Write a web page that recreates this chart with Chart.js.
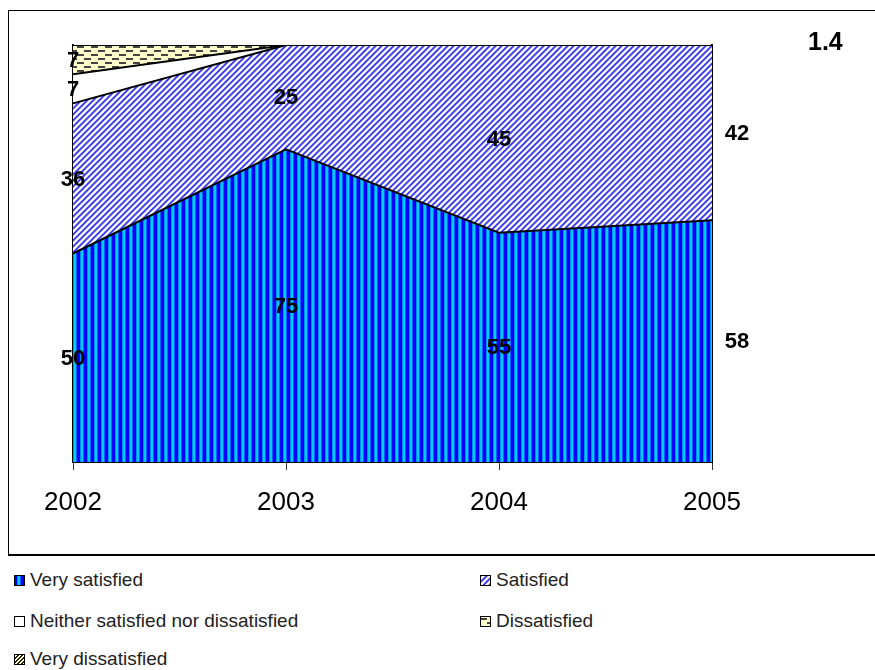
<!DOCTYPE html>
<html>
<head>
<meta charset="utf-8">
<script src="https://cdn.jsdelivr.net/npm/chart.js@4/dist/chart.umd.min.js"></script>
<style>
  html, body { margin: 0; padding: 0; background: #fff; width: 875px; height: 670px; overflow: hidden; font-family: Arial, "Liberation Sans", sans-serif; }
  #frame { position: absolute; left: 8px; top: 10px; width: 900px; height: 546px; border: 1px solid #000; border-bottom-width: 2px; box-sizing: border-box; }
  #chart { position: absolute; left: 0; top: 0; }
  #badge { position: absolute; left: 808px; top: 26px; font: bold 25px Arial, "Liberation Sans", sans-serif; line-height: 30px; color: #000; }
  .legend { position: absolute; font: 19px Arial, "Liberation Sans", sans-serif; color: #222; white-space: nowrap; display: flex; align-items: center; }
  .legend canvas { width: 11px; height: 11px; margin-right: 5px; }
</style>
</head>
<body>
<div id="frame"></div>
<canvas id="chart" width="875" height="557"></canvas>
<div id="badge">1.4</div>
<div id="legend"></div>
<script>
// Survey years and share of answers (percent) per satisfaction level
const years = ['2002', '2003', '2004', '2005'];
const seriesNames = ['Very satisfied', 'Satisfied', 'Neither satisfied nor dissatisfied', 'Dissatisfied', 'Very dissatisfied'];
const verySatisfied    = [50, 75, 55, 58];
const satisfied        = [36, 25, 45, 42];
const neither          = [7, 0, 0, 0];
const dissatisfied     = [7, 0, 0, 0];
const veryDissatisfied = [0, 0, 0, 0];

// ---- fill patterns ----
function makeTile(w, h, paint) {
  const c = document.createElement('canvas');
  c.width = w; c.height = h;
  const g = c.getContext('2d');
  paint(g, w, h);
  return c;
}
function pixelTile(w, h, colorAt) {
  return makeTile(w, h, (g) => {
    for (let y = 0; y < h; y++) for (let x = 0; x < w; x++) {
      g.fillStyle = colorAt(x, y);
      g.fillRect(x, y, 1, 1);
    }
  });
}
const tiles = {
  vertical: pixelTile(7, 1, (x) => ['#0000ff', '#0000ff', '#0000ff', '#0090ff', '#00ccff', '#00ccff', '#0060ff'][x]),
  diagonal: pixelTile(6, 6, (x, y) => ['#3c3cf4', '#3c3cf4', '#a4a4f8', '#ffffff', '#ffffff', '#cacafb'][(x + y) % 6]),
  plain: makeTile(2, 2, (g) => { g.fillStyle = '#ffffff'; g.fillRect(0, 0, 2, 2); }),
  dashes: makeTile(14, 8, (g) => {
    g.fillStyle = '#ffffcc'; g.fillRect(0, 0, 14, 8);
    g.fillStyle = '#444444';
    g.fillRect(0, 2, 7, 2);
    g.fillRect(7, 6, 7, 2);
  }),
  darkDiagonal: pixelTile(4, 4, (x, y) => ((x + y) % 4 < 2 ? '#222222' : '#ffffcc'))
};
const chartCtx = document.getElementById('chart').getContext('2d');
const pat = (t) => chartCtx.createPattern(tiles[t], 'repeat');
const seriesTiles = ['vertical', 'diagonal', 'plain', 'dashes', 'darkDiagonal'];
const seriesValues = [verySatisfied, satisfied, neither, dissatisfied, veryDissatisfied];

// ---- value labels in the middle of each band ----
const bandLabels = {
  id: 'bandLabels',
  afterDatasetsDraw(chart) {
    const { ctx, scales: { x, y } } = chart;
    ctx.save();
    ctx.font = 'bold 22px Arial, "Liberation Sans", sans-serif';
    ctx.fillStyle = '#000';
    ctx.textAlign = 'center';
    ctx.textBaseline = 'middle';
    const last = years.length - 1;
    chart.data.datasets.forEach((ds, i) => {
      ds.data.forEach((v, j) => {
        if (!v) return;
        let base = 0;
        for (let k = 0; k < i; k++) base += chart.data.datasets[k].data[j];
        const px = x.getPixelForValue(j) + (j === last ? 25 : 0);
        const py = y.getPixelForValue(base + v / 2);
        ctx.fillText(String(v), px, py + 1);
      });
    });
    ctx.restore();
  }
};

new Chart(chartCtx, {
  type: 'line',
  data: {
    labels: years,
    datasets: seriesNames.map((name, i) => ({
      label: name,
      data: seriesValues[i],
      backgroundColor: pat(seriesTiles[i]),
      borderColor: '#000',
      borderWidth: 2,
      pointRadius: 0,
      tension: 0,
      fill: i === 0 ? 'origin' : '-1'
    }))
  },
  options: {
    responsive: false,
    animation: false,
    events: [],
    layout: { padding: { top: 45, left: 73, right: 163, bottom: 0 } },
    plugins: { legend: { display: false }, tooltip: { enabled: false } },
    scales: {
      x: {
        offset: false,
        grid: { drawOnChartArea: false, color: '#333', tickLength: 8, tickWidth: 1 },
        border: { color: '#000', width: 1 },
        ticks: { color: '#000', font: { family: 'Arial, "Liberation Sans", sans-serif', size: 26 }, padding: 17, maxRotation: 0, autoSkip: false },
        afterFit: (s) => { s.height = 95; }
      },
      y: {
        stacked: true, min: 0, max: 100,
        grid: { display: false },
        border: { color: '#000', width: 2 },
        ticks: { display: false },
        afterFit: (s) => { s.width = 0; }
      },
      yRight: {
        position: 'right', min: 0, max: 100,
        grid: { display: false },
        border: { color: '#000', width: 2 },
        ticks: { display: false },
        afterFit: (s) => { s.width = 0; }
      }
    }
  },
  plugins: [bandLabels]
});

// ---- legend ----
const legendPos = [[14, 580], [480, 580], [14, 621], [480, 621], [14, 659]];
const legend = document.getElementById('legend');
seriesNames.forEach((name, i) => {
  const item = document.createElement('div');
  item.className = 'legend';
  item.style.left = legendPos[i][0] + 'px';
  item.style.top = (legendPos[i][1] - 11) + 'px';
  const sw = document.createElement('canvas');
  sw.width = 11; sw.height = 11;
  const g = sw.getContext('2d');
  g.fillStyle = g.createPattern(tiles[seriesTiles[i]], 'repeat');
  g.fillRect(0, 0, 11, 11);
  g.strokeStyle = '#000'; g.lineWidth = 1;
  g.strokeRect(0.5, 0.5, 10, 10);
  item.appendChild(sw);
  const t = document.createElement('span');
  t.textContent = name;
  item.appendChild(t);
  legend.appendChild(item);
});
</script>
</body>
</html>
